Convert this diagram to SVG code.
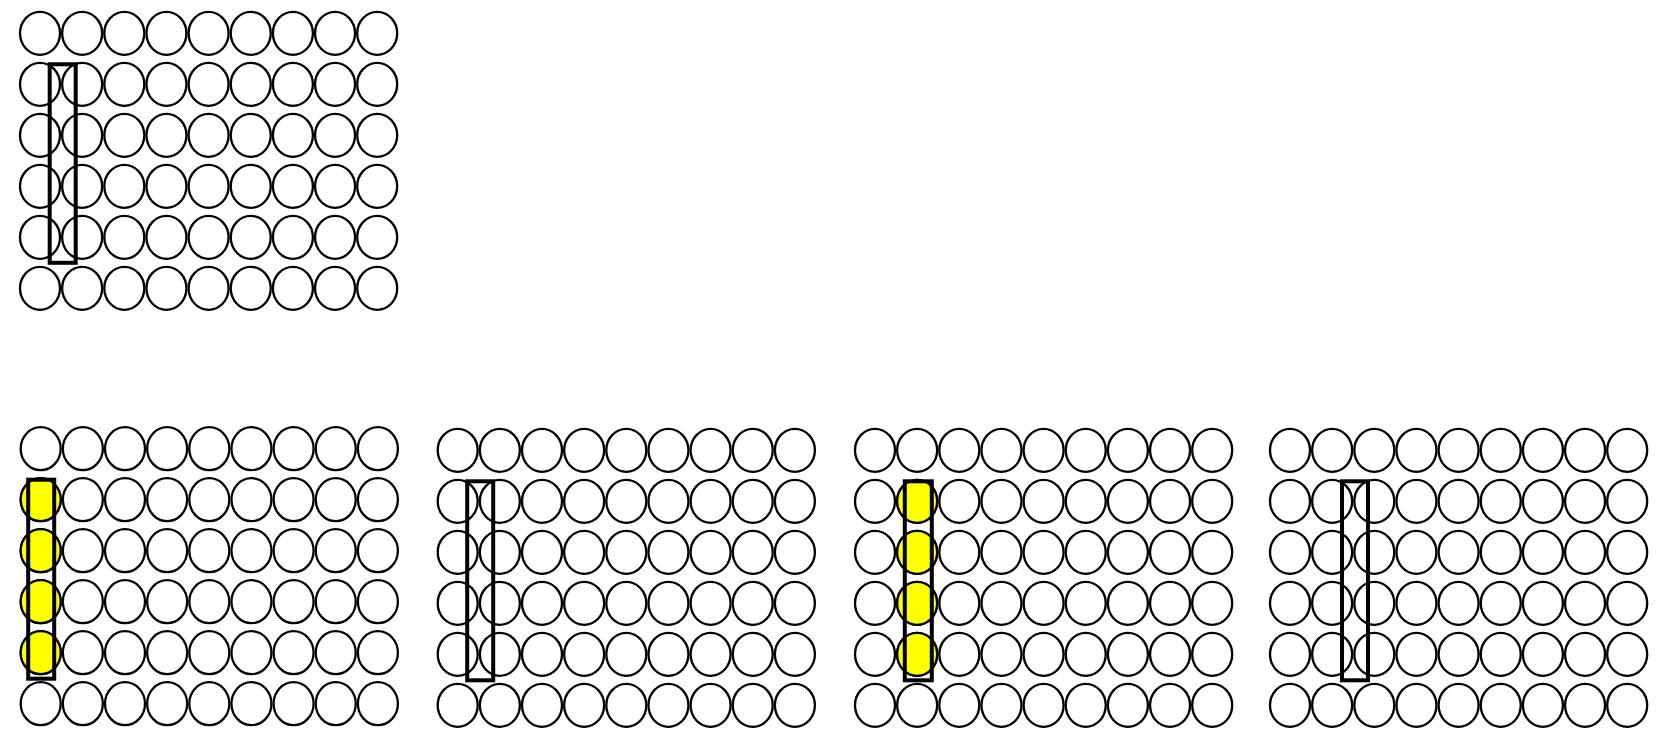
<svg xmlns="http://www.w3.org/2000/svg" xmlns:xlink="http://www.w3.org/1999/xlink" width="1658" height="740" viewBox="0 0 1658 740">
<style>
.c{fill:#ffffff;stroke:#000000;stroke-width:2.3}
.y{fill:#ffff00;stroke:#000000;stroke-width:2.3}
.r{fill:none;stroke:#000000;stroke-width:4}
</style>
<defs>
<g id="row">
<ellipse class="c" cx="0" cy="0" rx="20" ry="21.5"/>
<ellipse class="c" cx="42.15" cy="0" rx="20" ry="21.5"/>
<ellipse class="c" cx="84.3" cy="0" rx="20" ry="21.5"/>
<ellipse class="c" cx="126.45" cy="0" rx="20" ry="21.5"/>
<ellipse class="c" cx="168.6" cy="0" rx="20" ry="21.5"/>
<ellipse class="c" cx="210.75" cy="0" rx="20" ry="21.5"/>
<ellipse class="c" cx="252.9" cy="0" rx="20" ry="21.5"/>
<ellipse class="c" cx="295.05" cy="0" rx="20" ry="21.5"/>
<ellipse class="c" cx="337.2" cy="0" rx="20" ry="21.5"/>
</g>
<g id="grid">
<use xlink:href="#row" href="#row" y="0"/>
<use xlink:href="#row" href="#row" y="51"/>
<use xlink:href="#row" href="#row" y="102"/>
<use xlink:href="#row" href="#row" y="153"/>
<use xlink:href="#row" href="#row" y="204"/>
<use xlink:href="#row" href="#row" y="255"/>
</g>
<g id="yellowcol">
<ellipse class="y" cx="0" cy="51" rx="20" ry="21.5"/>
<ellipse class="y" cx="0" cy="102" rx="20" ry="21.5"/>
<ellipse class="y" cx="0" cy="153" rx="20" ry="21.5"/>
<ellipse class="y" cx="0" cy="204" rx="20" ry="21.5"/>
</g>
</defs>

<g id="grid-top" transform="translate(40,33.3)">
<use xlink:href="#grid" href="#grid"/>
<rect class="r" x="9.7" y="31" width="26" height="198.5"/>
</g>

<g id="grid-bottom-1" transform="translate(40.7,448.7)">
<use xlink:href="#grid" href="#grid"/>
<use xlink:href="#yellowcol" href="#yellowcol"/>
<rect class="r" x="-12.5" y="31" width="26" height="199"/>
</g>

<g id="grid-bottom-2" transform="translate(457.7,450.3)">
<use xlink:href="#grid" href="#grid"/>
<rect class="r" x="9.5" y="31" width="26" height="199"/>
</g>

<g id="grid-bottom-3" transform="translate(875,450.3)">
<use xlink:href="#grid" href="#grid"/>
<use xlink:href="#yellowcol" href="#yellowcol" x="42.15"/>
<rect class="r" x="29.8" y="31" width="27" height="199"/>
</g>

<g id="grid-bottom-4" transform="translate(1290,450.3)">
<use xlink:href="#grid" href="#grid"/>
<rect class="r" x="52" y="31" width="26" height="199"/>
</g>
</svg>
